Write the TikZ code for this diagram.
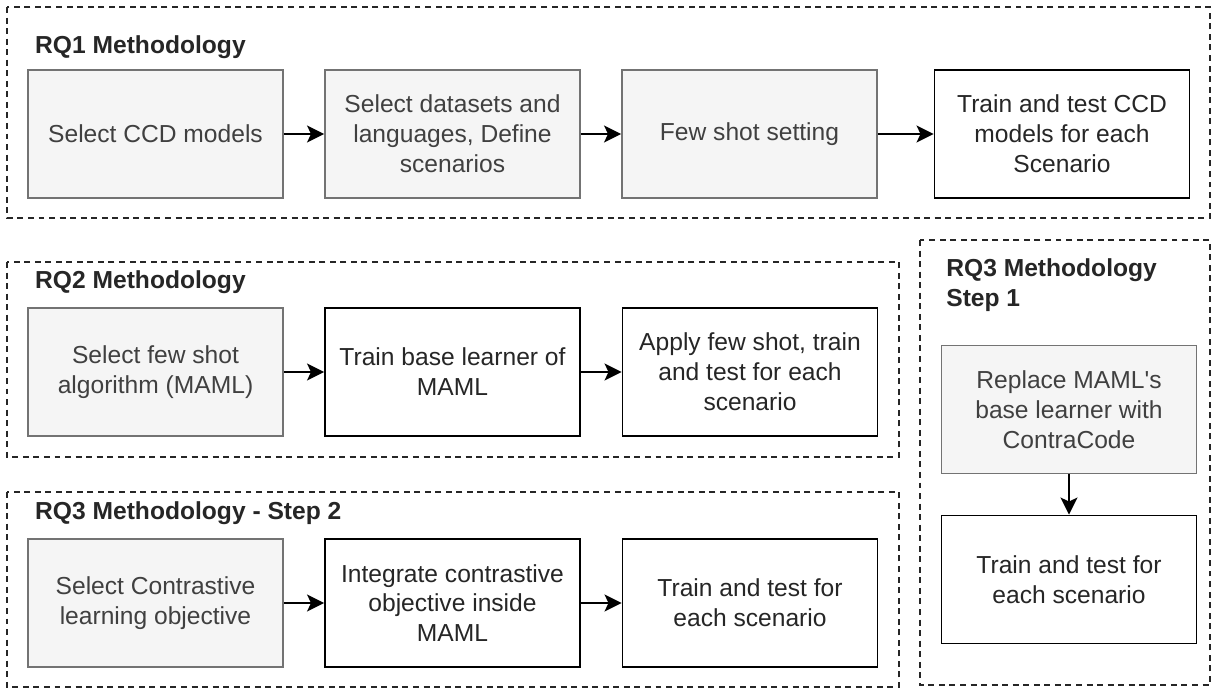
\documentclass[tikz,border=0pt]{standalone}
\usepackage{fontspec}
\setmainfont{Liberation Sans}[Ligatures=TeXOff]
\usetikzlibrary{positioning, arrows.meta}

\begin{document}
\begin{tikzpicture}[
    frame/.style={draw=black!85, dash pattern=on 3.4pt off 2.6pt, line width=0.8pt},
    title/.style={font=\fontsize{14}{17}\selectfont\bfseries, text=black!85, align=left},
    stage/.style={rectangle, draw=black, line width=1.1pt, fill=white, text=black!85,
                  minimum width=5.1cm, minimum height=2.56cm, align=center,
                  font=\fontsize{14}{17}\selectfont},
    given/.style={stage, draw=black!55, fill=black!4, text=black!75},
    arrow/.style={-{Stealth[length=3.4mm, width=3.4mm, inset=0.8mm]}, line width=1.1pt}
]
    \useasboundingbox (0, 0) rectangle (24.24, -13.78);

    % === RQ1 ===
    \draw[frame] (0.14, -0.14) rectangle (24.2, -4.36);
    \node[title, anchor=west] (rq1) at (0.58, -0.94) {RQ1 Methodology};

    \node[given] (ccd) at (3.11, -2.68) {Select CCD models};
    \node[given] (data) at (9.05, -2.68) {Select datasets and\\languages, Define\\scenarios};
    \node[given] (shot) at (14.99, -2.68) {Few shot setting};
    \node[stage] (ccdtest) at (21.24, -2.68) {Train and test CCD\\models for each\\Scenario};

    \draw[arrow] (ccd) -- (data);
    \draw[arrow] (data) -- (shot);
    \draw[arrow] (shot) -- (ccdtest);

    % === RQ2 ===
    \draw[frame] (0.14, -5.24) rectangle (17.98, -9.14);
    \node[title, anchor=west] (rq2) at (0.58, -5.64) {RQ2 Methodology};

    \node[given] (maml) at (3.11, -7.44) {Select few shot\\algorithm (MAML)};
    \node[stage] (base) at (9.05, -7.44) {Train base learner of\\MAML};
    \node[stage] (apply) at (15.0, -7.44) {Apply few shot, train\\and test for each\\scenario};

    \draw[arrow] (maml) -- (base);
    \draw[arrow] (base) -- (apply);

    % === RQ3 step 2 ===
    \draw[frame] (0.14, -9.84) rectangle (17.98, -13.74);
    \node[title, anchor=west] (rq3b) at (0.58, -10.26) {RQ3 Methodology - Step 2};

    \node[given] (objective) at (3.11, -12.06) {Select Contrastive\\learning objective};
    \node[stage] (integrate) at (9.05, -12.06) {Integrate contrastive\\objective inside\\MAML};
    \node[stage] (test2) at (15.0, -12.06) {Train and test for\\each scenario};

    \draw[arrow] (objective) -- (integrate);
    \draw[arrow] (integrate) -- (test2);

    % === RQ3 step 1 ===
    \draw[frame] (18.4, -4.8) rectangle (24.2, -13.7);
    \node[title, anchor=north west, inner sep=0pt] (rq3a) at (18.92, -5.17) {RQ3 Methodology\\Step 1};

    \node[given] (replace) at (21.38, -8.19) {Replace MAML's\\base learner with\\ContraCode};
    \node[stage] (test1) at (21.38, -11.59) {Train and test for\\each scenario};

    \draw[arrow] (replace) -- (test1);

\end{tikzpicture}
\end{document}
